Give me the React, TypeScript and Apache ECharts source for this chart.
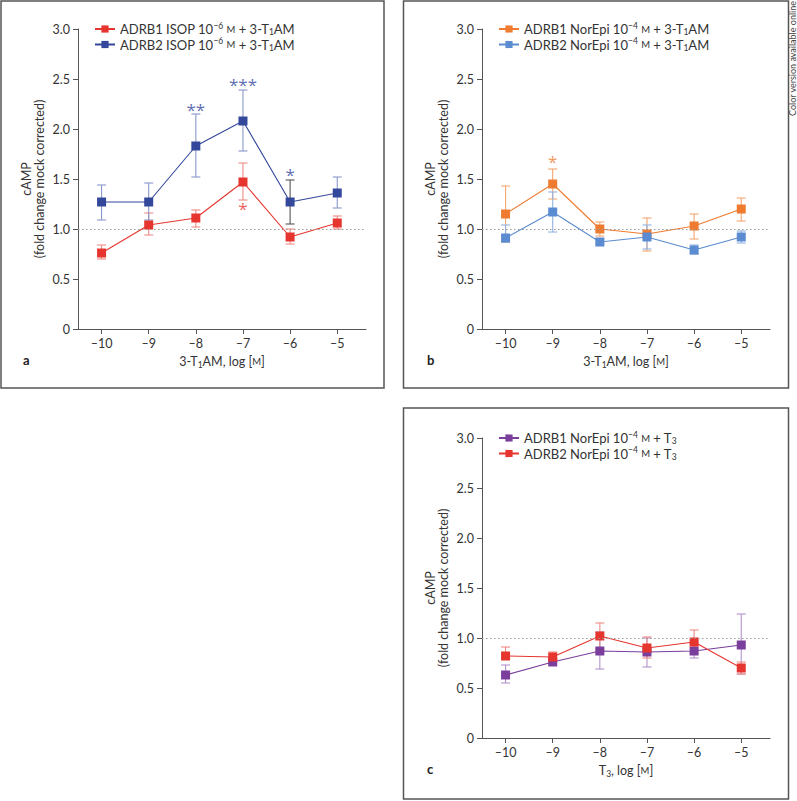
import React, { useEffect, useRef } from "react";
import * as echarts from "echarts";

// ---------- data ----------
const xVals = [-10, -9, -8, -7, -6, -5];
const xTicks = [-10, -9, -8, -7, -6, -5];

// Panel a: ISOP 10^-6 M + 3-T1AM
const aB1Mean = [0.76, 1.04, 1.11, 1.47, 0.92, 1.06];
const aB1Low = [0.70, 0.94, 1.02, 1.29, 0.85, 1.0];
const aB1High = [0.84, 1.16, 1.19, 1.66, 1.0, 1.13];
const aB2Mean = [1.27, 1.27, 1.83, 2.08, 1.27, 1.36];
const aB2Low = [1.09, 1.09, 1.52, 1.78, 1.05, 1.21];
const aB2High = [1.44, 1.46, 2.15, 2.39, 1.49, 1.52];
const aB2StarX = [-8, -7, -6];
const aB2StarY = [2.2, 2.45, 1.55];
const aB2StarText = ["**", "***", "*"];
const aB1StarX = [-7];
const aB1StarY = [1.21];
const aB1StarText = ["*"];

// Panel b: NorEpi 10^-4 M + 3-T1AM
const bB1Mean = [1.15, 1.45, 1.0, 0.95, 1.03, 1.2];
const bB1Low = [0.87, 1.3, 0.93, 0.78, 0.9, 1.08];
const bB1High = [1.43, 1.6, 1.07, 1.11, 1.15, 1.31];
const bB2Mean = [0.91, 1.17, 0.87, 0.92, 0.79, 0.92];
const bB2Low = [0.87, 0.97, 0.85, 0.8, 0.75, 0.86];
const bB2High = [1.04, 1.37, 0.9, 1.04, 0.84, 0.98];
const bB1StarX = [-9];
const bB1StarY = [1.68];
const bB1StarText = ["*"];

// Panel c: NorEpi 10^-4 M + T3
const cB1Mean = [0.63, 0.76, 0.87, 0.86, 0.87, 0.93];
const cB1Low = [0.55, 0.74, 0.69, 0.71, 0.8, 0.64];
const cB1High = [0.73, 0.79, 1.06, 1.0, 0.95, 1.24];
const cB2Mean = [0.82, 0.81, 1.02, 0.9, 0.96, 0.7];
const cB2Low = [0.79, 0.77, 0.89, 0.8, 0.85, 0.64];
const cB2High = [0.91, 0.86, 1.15, 1.01, 1.08, 0.76];

const names = {
  a1: "ADRB1 ISOP 10-6 M + 3-T1AM",
  a2: "ADRB2 ISOP 10-6 M + 3-T1AM",
  b1: "ADRB1 NorEpi 10-4 M + 3-T1AM",
  b2: "ADRB2 NorEpi 10-4 M + 3-T1AM",
  c1: "ADRB1 NorEpi 10-4 M + T3",
  c2: "ADRB2 NorEpi 10-4 M + T3",
};
const richNames: Record<string, string> = {
  [names.a1]: "ADRB1 ISOP 10{sup|−6} {sc|M} + 3-T{sub|1}AM",
  [names.a2]: "ADRB2 ISOP 10{sup|−6} {sc|M} + 3-T{sub|1}AM",
  [names.b1]: "ADRB1 NorEpi 10{sup|−4} {sc|M} + 3-T{sub|1}AM",
  [names.b2]: "ADRB2 NorEpi 10{sup|−4} {sc|M} + 3-T{sub|1}AM",
  [names.c1]: "ADRB1 NorEpi 10{sup|−4} {sc|M} + T{sub|3}",
  [names.c2]: "ADRB2 NorEpi 10{sup|−4} {sc|M} + T{sub|3}",
};

// ---------- styles ----------
const FONT = "Lato, 'Open Sans', sans-serif";
const FS = 12.5;
const LFS = 13;
const TXT = "#333";
const AXIS = "#555";
const RED = "#e6352f";
const RED_E = "#ef8a86";
const NAVY = "#33479b";
const NAVY_E = "#8a98cc";
const ORANGE = "#ef7b30";
const ORANGE_E = "#f4a66f";
const LBLUE = "#5b8bd0";
const LBLUE_E = "#93b2e0";
const PURPLE = "#7a3e9c";
const PURPLE_E = "#b293cc";

const richStyles = {
  sup: { fontSize: 8.5, fontFamily: FONT, color: TXT, padding: [0, 0, 7, 0] },
  sub: { fontSize: 8.5, fontFamily: FONT, color: TXT, padding: [6, 0, 0, 0] },
  sc: { fontSize: 9.5, fontFamily: FONT, color: TXT },
};

function App() {
  const ref = useRef<HTMLDivElement>(null);
  useEffect(() => {
    if (!ref.current) return;
    const chart = echarts.init(ref.current, null, { renderer: "svg" });

    const grids = [
      { left: 78, top: 29, width: 288, height: 300 },
      { left: 482, top: 29, width: 288, height: 300 },
      { left: 482, top: 438, width: 288, height: 300 },
    ];
    const xNames = [
      "3-T{sub|1}AM, log [{sc|M}]",
      "3-T{sub|1}AM, log [{sc|M}]",
      "T{sub|3}, log [{sc|M}]",
    ];

    const xAxes = grids.map((_, i) => ({
      type: "value",
      gridIndex: i,
      min: -10.5,
      max: -4.39,
      name: xNames[i],
      nameLocation: "middle",
      nameGap: 25,
      nameTextStyle: { fontFamily: FONT, fontSize: FS, color: TXT, rich: richStyles },
      splitLine: { show: false },
      axisLine: { show: true, lineStyle: { color: AXIS, width: 1 } },
      axisTick: { show: true, length: 5, lineStyle: { color: AXIS }, customValues: xTicks },
      axisLabel: {
        fontFamily: FONT,
        fontSize: FS,
        color: TXT,
        margin: 8,
        customValues: xTicks,
        formatter: (v: number) => (v < 0 ? "–" + Math.abs(v) : String(v)),
      },
    }));

    const yAxes = grids.map((_, i) => ({
      type: "value",
      gridIndex: i,
      min: 0,
      max: 3,
      interval: 0.5,
      name: "cAMP\n(fold change mock corrected)",
      nameLocation: "middle",
      nameRotate: 90,
      nameGap: 32,
      nameTextStyle: { fontFamily: FONT, fontSize: FS, color: TXT, lineHeight: 13 },
      splitLine: { show: false },
      axisLine: { show: true, lineStyle: { color: AXIS, width: 1 } },
      axisTick: { show: true, length: 5, lineStyle: { color: AXIS } },
      axisLabel: {
        fontFamily: FONT,
        fontSize: FS,
        color: TXT,
        margin: 8,
        formatter: (v: number) => (v === 0 ? "0" : v.toFixed(1)),
      },
    }));

    const errSeries = (
      gi: number,
      name: string,
      lows: number[],
      highs: number[],
      color: string,
      specialIdx = -1,
      specialColor = ""
    ) => ({
      type: "custom",
      name: name + " err",
      xAxisIndex: gi,
      yAxisIndex: gi,
      z: 1,
      silent: true,
      data: xVals.map((x, k) => [x, lows[k], highs[k]]),
      encode: { x: 0, y: [1, 2] },
      renderItem: (params: any, api: any) => {
        const x = api.value(0);
        const lo = api.value(1);
        const hi = api.value(2);
        const p1 = api.coord([x, hi]);
        const p2 = api.coord([x, lo]);
        const w = 4.5;
        const c = params.dataIndex === specialIdx ? specialColor : color;
        const st = { stroke: c, lineWidth: 1.1 };
        return {
          type: "group",
          children: [
            { type: "line", shape: { x1: p1[0], y1: p1[1], x2: p2[0], y2: p2[1] }, style: st },
            { type: "line", shape: { x1: p1[0] - w, y1: p1[1], x2: p1[0] + w, y2: p1[1] }, style: st },
            { type: "line", shape: { x1: p2[0] - w, y1: p2[1], x2: p2[0] + w, y2: p2[1] }, style: st },
          ],
        };
      },
    });

    const lineSeries = (gi: number, name: string, means: number[], color: string, withRef = false) => ({
      type: "line",
      name,
      xAxisIndex: gi,
      yAxisIndex: gi,
      z: 3,
      data: xVals.map((x, k) => [x, means[k]]),
      symbol: "rect",
      symbolSize: 9,
      lineStyle: { color, width: 1.1 },
      itemStyle: { color },
      markLine: withRef
        ? {
            silent: true,
            symbol: "none",
            label: { show: false },
            lineStyle: { color: "#999", type: [1.5, 2.5], width: 1 },
            data: [{ yAxis: 1 }],
          }
        : undefined,
    });

    const starSeries = (gi: number, id: string, xs: number[], ys: number[], texts: string[], color: string) => ({
      type: "scatter",
      name: id,
      xAxisIndex: gi,
      yAxisIndex: gi,
      z: 4,
      silent: true,
      symbolSize: 1,
      itemStyle: { color: "rgba(0,0,0,0)" },
      data: xs.map((x, k) => [x, ys[k]]),
      label: {
        show: true,
        position: "inside",
        formatter: (p: any) => texts[p.dataIndex],
        fontFamily: "'Open Sans', sans-serif",
        fontSize: 17,
        color,
      },
    });

    const legendCommon = {
      orient: "vertical",
      itemWidth: 20,
      itemHeight: 9,
      itemGap: 0,
      selectedMode: false,
      formatter: (n: string) => richNames[n] || n,
      textStyle: { fontFamily: FONT, fontSize: LFS, color: TXT, rich: richStyles },
    };

    const option = {
      animation: false,
      backgroundColor: "#fff",
      grid: grids,
      xAxis: xAxes,
      yAxis: yAxes,
      legend: [
        { ...legendCommon, data: [names.a1, names.a2], left: 89, top: 16 },
        { ...legendCommon, data: [names.b1, names.b2], left: 493, top: 16 },
        { ...legendCommon, data: [names.c1, names.c2], left: 493, top: 425 },
      ],
      graphic: [
        { type: "rect", shape: { x: 1, y: 1, width: 383, height: 387 }, style: { fill: "none", stroke: "#555", lineWidth: 1.5 } },
        { type: "rect", shape: { x: 403.5, y: 1, width: 385, height: 387 }, style: { fill: "none", stroke: "#555", lineWidth: 1.5 } },
        { type: "rect", shape: { x: 403.5, y: 408, width: 385, height: 391 }, style: { fill: "none", stroke: "#555", lineWidth: 1.5 } },
        { type: "text", x: 23, y: 353, style: { text: "a", font: `bold 13px ${FONT}`, fill: "#222" } },
        { type: "text", x: 427, y: 353, style: { text: "b", font: `bold 13px ${FONT}`, fill: "#222" } },
        { type: "text", x: 427, y: 762, style: { text: "c", font: `bold 13px ${FONT}`, fill: "#222" } },
        {
          type: "text",
          x: 792,
          y: 116,
          rotation: Math.PI / 2,
          style: {
            text: "Color version available online",
            font: `9px ${FONT}`,
            fill: "#444",
            textAlign: "left",
            textVerticalAlign: "middle",
          },
        },
      ],
      series: [
        errSeries(0, names.a1, aB1Low, aB1High, RED_E),
        errSeries(0, names.a2, aB2Low, aB2High, NAVY_E, 4, "#555"),
        lineSeries(0, names.a1, aB1Mean, RED, true),
        lineSeries(0, names.a2, aB2Mean, NAVY),
        starSeries(0, "starsA2", aB2StarX, aB2StarY, aB2StarText, NAVY),
        starSeries(0, "starsA1", aB1StarX, aB1StarY, aB1StarText, RED),

        errSeries(1, names.b1, bB1Low, bB1High, ORANGE_E),
        errSeries(1, names.b2, bB2Low, bB2High, LBLUE_E),
        lineSeries(1, names.b1, bB1Mean, ORANGE, true),
        lineSeries(1, names.b2, bB2Mean, LBLUE),
        starSeries(1, "starsB1", bB1StarX, bB1StarY, bB1StarText, ORANGE),

        errSeries(2, names.c1, cB1Low, cB1High, PURPLE_E),
        errSeries(2, names.c2, cB2Low, cB2High, RED_E),
        lineSeries(2, names.c1, cB1Mean, PURPLE, true),
        lineSeries(2, names.c2, cB2Mean, RED),
      ],
    };

    chart.setOption(option as any);
    return () => chart.dispose();
  }, []);

  return (
    <div
      ref={ref}
      style={{ position: "absolute", left: 0, top: 0, width: 797, height: 801, background: "#fff" }}
    />
  );
}

export default App;
